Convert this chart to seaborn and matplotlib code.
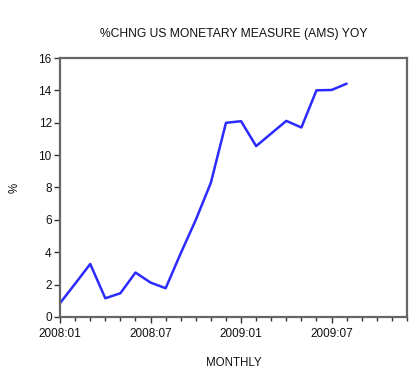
import numpy as np
import pandas as pd
import matplotlib
matplotlib.use("Agg")
import matplotlib.pyplot as plt
import seaborn as sns

# ── Data ──────────────────────────────────────────────────────────────
MONTHS = ["2008:01", "2008:02", "2008:03", "2008:04", "2008:05", "2008:06",
          "2008:07", "2008:08", "2008:09", "2008:10", "2008:11", "2008:12",
          "2009:01", "2009:02", "2009:03", "2009:04", "2009:05", "2009:06",
          "2009:07", "2009:08"]
AMS_YOY = [0.85, 2.05, 3.27, 1.15, 1.46, 2.74,
           2.12, 1.77, 3.93, 6.0, 8.3, 12.0,
           12.1, 10.56, 11.34, 12.12, 11.71, 14.01,
           14.03, 14.42]
XTICK_LABELS = ["2008:01", "2008:07", "2009:01", "2009:07"]
YTICKS = [0, 2, 4, 6, 8, 10, 12, 14, 16]

df = pd.DataFrame({"t": np.arange(len(MONTHS)), "month": MONTHS, "value": AMS_YOY})

# ── Style ─────────────────────────────────────────────────────────────
sns.set_style("white")
plt.rcParams["font.family"] = ["Liberation Sans", "DejaVu Sans"]
plt.rcParams["text.color"] = "#111111"
plt.rcParams["xtick.color"] = "#111111"
plt.rcParams["ytick.color"] = "#111111"
plt.rcParams["axes.labelcolor"] = "#111111"

fig = plt.figure(figsize=(4.2, 3.85), dpi=100)
ax = fig.add_axes([0.143, 0.177, 0.826, 0.672])

sns.lineplot(data=df, x="t", y="value", ax=ax, color="#2b2bff", linewidth=1.8)

ax.set_xlim(0, 23)
ax.set_ylim(0, 16)
ax.set_xticks([0, 6, 12, 18])
ax.set_xticklabels(XTICK_LABELS)
ax.set_xticks(np.arange(0, 24), minor=True)
ax.set_yticks(YTICKS)

ax.tick_params(axis="both", which="major", direction="out", length=4, width=1,
               color="#333333", labelsize=8.5, pad=2, bottom=True, left=True)
ax.tick_params(axis="x", which="major", pad=4)
ax.tick_params(axis="x", which="minor", direction="out", length=3, width=1,
               color="#333333", bottom=True)

for s in ax.spines.values():
    s.set_color("#666666")
    s.set_linewidth(1.6)

ax.set_title("%CHNG US MONETARY MEASURE (AMS) YOY", fontsize=8.7, pad=15)
ax.set_xlabel("MONTHLY", fontsize=8.3, labelpad=12)
ax.set_ylabel("%", fontsize=8.3, labelpad=13)

fig.savefig("out.png", dpi=100)
